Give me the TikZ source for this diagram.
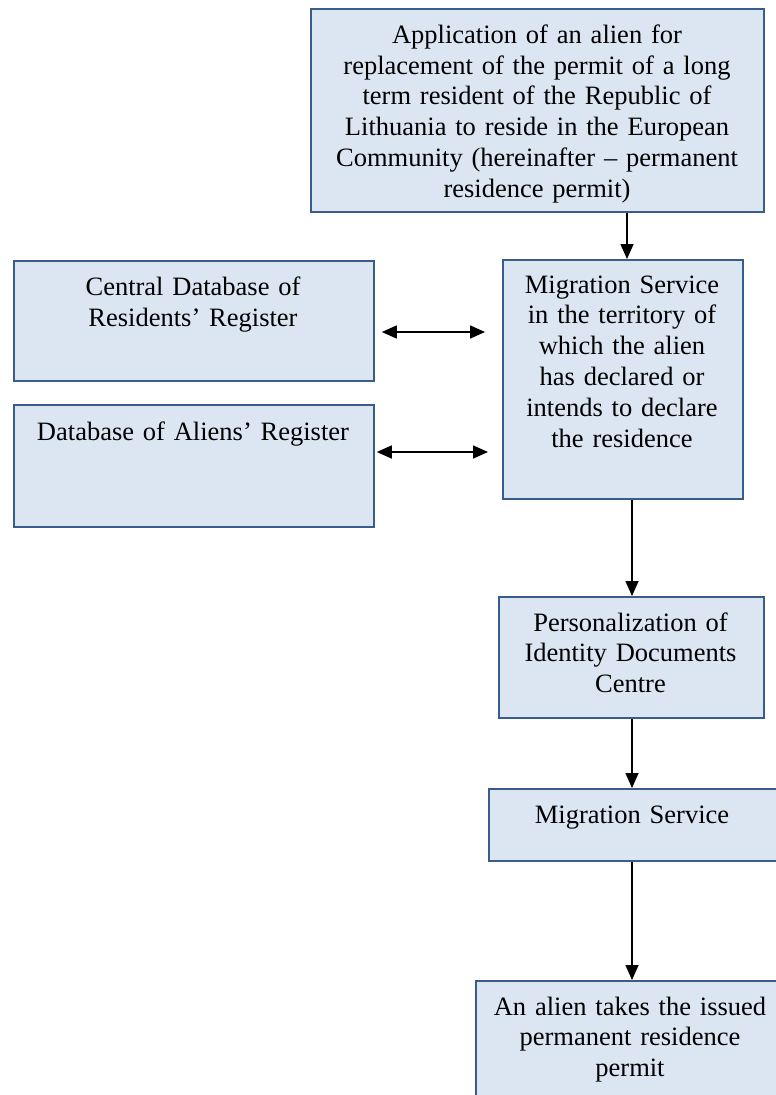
\documentclass[tikz,border=0pt]{standalone}
\usepackage{fontspec}
\setmainfont{Liberation Serif}
\usetikzlibrary{arrows.meta,calc}
\definecolor{boxfill}{HTML}{DCE6F2}
\definecolor{boxline}{HTML}{385D8A}
\begin{document}
\begin{tikzpicture}[x=1pt,y=-1pt,
  box/.style={draw=boxline, fill=boxfill, line width=1.8pt, inner sep=0pt, anchor=north west},
  lbl/.style={anchor=base, align=center, inner sep=0pt, text width=#1},
  big/.style={font=\fontsize{26.5}{30.8}\selectfont},
  arr/.style={line width=1.6pt, -{Triangle[length=15pt,width=13pt]}},
  darr/.style={line width=1.6pt, {Triangle[length=15pt,width=13pt]}-{Triangle[length=15pt,width=13pt]}}]
\useasboundingbox (0,0) rectangle (776,1095);
\clip (0,0) rectangle (776,1095);

% boxes
\node[box, minimum width=453pt, minimum height=203pt] (app) at (310,8) {};
\node[box, minimum width=360pt, minimum height=120pt] (cdb) at (13,260) {};
\node[box, minimum width=360pt, minimum height=122pt] (adb) at (13,404) {};
\node[box, minimum width=240pt, minimum height=239pt] (mig) at (502,259) {};
\node[box, minimum width=265pt, minimum height=121pt] (pid) at (498,596) {};
\node[box, minimum width=290pt, minimum height=72pt] (ms) at (488,788) {};
\node[box, minimum width=310pt, minimum height=130pt] (iss) at (475,980) {};

% texts
\node[lbl=453pt, big] (tapp) at (537,43.3) {Application of an alien for\\replacement of the permit of a long\\term resident of the Republic of\\Lithuania to reside in the European\\Community (hereinafter – permanent\\residence permit)};
\node[lbl=360pt, big] (tcdb) at (193,295.5) {Central Database of\\Residents’ Register};
\node[lbl=360pt, big] (tadb) at (193,440) {Database of Aliens’ Register};
\node[lbl=240pt, big] (tmig) at (622,293) {Migration Service\\in the territory of\\which the alien\\has declared or\\intends to declare\\the residence};
\node[lbl=265pt, big] (tpid) at (630.5,631) {Personalization of\\Identity Documents\\Centre};
\node[lbl=290pt, big] (tms) at (632,823) {Migration Service};
\node[lbl=310pt, big] (tiss) at (630,1015) {An alien takes the issued\\permanent residence\\permit};

% connectors
\coordinate (xa) at (627,0);
\coordinate (xb) at (632,0);
\coordinate (ya) at (0,332);
\coordinate (yb) at (0,452);
\draw[arr] (app.south -| xa) -- (mig.north -| xa);
\draw[arr] (mig.south -| xb) -- (pid.north -| xb);
\draw[arr] (pid.south -| xb) -- (ms.north -| xb);
\draw[arr] (ms.south -| xb) -- (iss.north -| xb);
\draw[darr] ($(cdb.east |- ya)+(7,0)$) -- ($(mig.west |- ya)+(-17,0)$);
\draw[darr] ($(adb.east |- yb)+(2,0)$) -- ($(mig.west |- yb)+(-14,0)$);
\end{tikzpicture}
\end{document}
